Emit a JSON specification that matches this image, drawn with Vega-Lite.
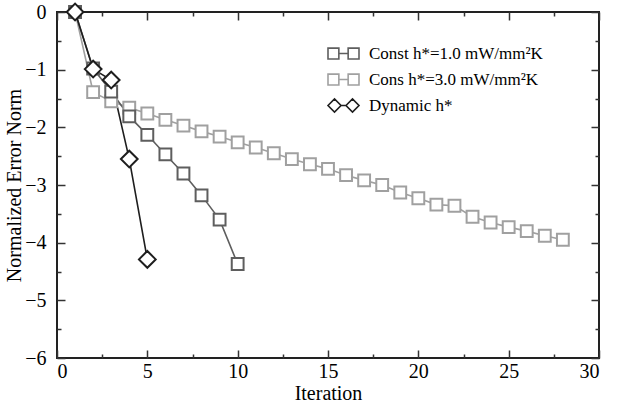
{
  "$schema": "https://vega.github.io/schema/vega-lite/v6.json",
  "width": 542,
  "height": 346,
  "autosize": "none",
  "padding": {"left": 57, "top": 12, "right": 27, "bottom": 49},
  "background": "white",
  "config": {
    "view": {"stroke": "#222", "strokeWidth": 2},
    "axis": {"grid": false, "domain": false, "tickColor": "#333", "tickWidth": 1.5, "labelFont": "Liberation Serif", "titleFont": "Liberation Serif", "labelColor": "#000", "titleColor": "#000", "titleFontWeight": "normal", "labelFontSize": 20, "titleFontSize": 20}
  },
  "data": {"values": [
    {"series": "Cons h*=3.0 mW/mm²K", "x": 1, "y": 0},
    {"series": "Cons h*=3.0 mW/mm²K", "x": 2, "y": -1.39},
    {"series": "Cons h*=3.0 mW/mm²K", "x": 3, "y": -1.55},
    {"series": "Cons h*=3.0 mW/mm²K", "x": 4, "y": -1.66},
    {"series": "Cons h*=3.0 mW/mm²K", "x": 5, "y": -1.76},
    {"series": "Cons h*=3.0 mW/mm²K", "x": 6, "y": -1.87},
    {"series": "Cons h*=3.0 mW/mm²K", "x": 7, "y": -1.97},
    {"series": "Cons h*=3.0 mW/mm²K", "x": 8, "y": -2.07},
    {"series": "Cons h*=3.0 mW/mm²K", "x": 9, "y": -2.16},
    {"series": "Cons h*=3.0 mW/mm²K", "x": 10, "y": -2.26},
    {"series": "Cons h*=3.0 mW/mm²K", "x": 11, "y": -2.35},
    {"series": "Cons h*=3.0 mW/mm²K", "x": 12, "y": -2.45},
    {"series": "Cons h*=3.0 mW/mm²K", "x": 13, "y": -2.55},
    {"series": "Cons h*=3.0 mW/mm²K", "x": 14, "y": -2.64},
    {"series": "Cons h*=3.0 mW/mm²K", "x": 15, "y": -2.72},
    {"series": "Cons h*=3.0 mW/mm²K", "x": 16, "y": -2.83},
    {"series": "Cons h*=3.0 mW/mm²K", "x": 17, "y": -2.92},
    {"series": "Cons h*=3.0 mW/mm²K", "x": 18, "y": -3.0},
    {"series": "Cons h*=3.0 mW/mm²K", "x": 19, "y": -3.13},
    {"series": "Cons h*=3.0 mW/mm²K", "x": 20, "y": -3.23},
    {"series": "Cons h*=3.0 mW/mm²K", "x": 21, "y": -3.34},
    {"series": "Cons h*=3.0 mW/mm²K", "x": 22, "y": -3.36},
    {"series": "Cons h*=3.0 mW/mm²K", "x": 23, "y": -3.55},
    {"series": "Cons h*=3.0 mW/mm²K", "x": 24, "y": -3.65},
    {"series": "Cons h*=3.0 mW/mm²K", "x": 25, "y": -3.73},
    {"series": "Cons h*=3.0 mW/mm²K", "x": 26, "y": -3.8},
    {"series": "Cons h*=3.0 mW/mm²K", "x": 27, "y": -3.88},
    {"series": "Cons h*=3.0 mW/mm²K", "x": 28, "y": -3.95},
    {"series": "Const h*=1.0 mW/mm²K", "x": 1, "y": 0},
    {"series": "Const h*=1.0 mW/mm²K", "x": 2, "y": -0.98},
    {"series": "Const h*=1.0 mW/mm²K", "x": 3, "y": -1.38},
    {"series": "Const h*=1.0 mW/mm²K", "x": 4, "y": -1.81},
    {"series": "Const h*=1.0 mW/mm²K", "x": 5, "y": -2.13},
    {"series": "Const h*=1.0 mW/mm²K", "x": 6, "y": -2.47},
    {"series": "Const h*=1.0 mW/mm²K", "x": 7, "y": -2.8},
    {"series": "Const h*=1.0 mW/mm²K", "x": 8, "y": -3.18},
    {"series": "Const h*=1.0 mW/mm²K", "x": 9, "y": -3.6},
    {"series": "Const h*=1.0 mW/mm²K", "x": 10, "y": -4.37},
    {"series": "Dynamic h*", "x": 1, "y": 0},
    {"series": "Dynamic h*", "x": 2, "y": -0.99},
    {"series": "Dynamic h*", "x": 3, "y": -1.18},
    {"series": "Dynamic h*", "x": 4, "y": -2.55},
    {"series": "Dynamic h*", "x": 5, "y": -4.29}
  ]},
  "resolve": {"axis": {"x": "independent", "y": "independent"}},
  "layer": [
    {
      "mark": {"type": "line", "strokeWidth": 1.6},
      "encoding": {
        "x": {"field": "x", "type": "quantitative", "scale": {"domain": [0, 30], "nice": false, "zero": false},
              "axis": {"orient": "bottom", "values": [0, 5, 10, 15, 20, 25, 30], "tickSize": -8, "labelPadding": 11, "title": "Iteration", "titlePadding": 2}},
        "y": {"field": "y", "type": "quantitative", "scale": {"domain": [-6, 0], "nice": false, "zero": false},
              "axis": {"orient": "left", "values": [-6, -5, -4, -3, -2, -1, 0], "tickSize": -8, "labelPadding": 19, "title": "Normalized Error Norm", "titlePadding": 0}},
        "detail": {"field": "series"},
        "color": {"field": "series", "type": "nominal",
                  "scale": {"domain": ["Const h*=1.0 mW/mm²K", "Cons h*=3.0 mW/mm²K", "Dynamic h*"], "range": ["#5e5e5e", "#a0a0a0", "#1e1e1e"]}}
      }
    },
    {
      "transform": [{"filter": "datum.series !== 'Dynamic h*'"}],
      "mark": {"type": "point", "shape": "square", "size": 140, "filled": false, "fill": "white", "fillOpacity": 1, "strokeWidth": 2, "opacity": 1},
      "encoding": {
        "x": {"field": "x", "type": "quantitative", "axis": {"orient": "top", "values": [0, 5, 10, 15, 20, 25, 30], "tickSize": -8, "labels": false, "title": null}},
        "y": {"field": "y", "type": "quantitative", "axis": {"orient": "right", "values": [-6, -5, -4, -3, -2, -1, 0], "tickSize": -8, "labels": false, "title": null}},
        "color": {"field": "series", "type": "nominal"}
      }
    },
    {
      "transform": [{"filter": "datum.series === 'Dynamic h*'"}],
      "mark": {"type": "point", "shape": "diamond", "size": 280, "filled": false, "fill": "white", "fillOpacity": 1, "strokeWidth": 2, "opacity": 1},
      "encoding": {
        "x": {"field": "x", "type": "quantitative", "axis": null},
        "y": {"field": "y", "type": "quantitative", "axis": null},
        "color": {"field": "series", "type": "nominal"}
      }
    },
    {
      "transform": [{"filter": "false"}],
      "mark": {"type": "point", "filled": false, "fill": "white", "fillOpacity": 1, "strokeWidth": 1.6, "opacity": 1},
      "encoding": {
        "x": {"field": "x", "type": "quantitative", "axis": null},
        "y": {"field": "y", "type": "quantitative", "axis": null},
        "shape": {"field": "series", "type": "nominal",
                  "scale": {"domain": ["Const h*=1.0 mW/mm²K", "Cons h*=3.0 mW/mm²K", "Dynamic h*"],
                            "range": ["M-1,-0.35 H-0.3 V0.35 H-1 Z M-0.3,0 H0.3 M0.3,-0.35 H1 V0.35 H0.3 Z", "M-1,-0.35 H-0.3 V0.35 H-1 Z M-0.3,0 H0.3 M0.3,-0.35 H1 V0.35 H0.3 Z", "M-1,0 L-0.58,-0.42 L-0.16,0 L-0.58,0.42 Z M-0.16,0 L0.16,0 M0.16,0 L0.58,-0.42 L1,0 L0.58,0.42 Z"]},
                  "legend": {"title": null, "orient": "none", "legendX": 270, "legendY": 25, "labelFont": "Liberation Serif", "labelFontSize": 17, "labelColor": "#000", "labelLimit": 400, "symbolSize": 961, "symbolStrokeWidth": 1.6, "symbolFillColor": "white", "labelOffset": 9, "rowPadding": -6}},
        "color": {"field": "series", "type": "nominal",
                  "legend": {"title": null, "orient": "none", "legendX": 270, "legendY": 25, "labelFont": "Liberation Serif", "labelFontSize": 17, "labelColor": "#000", "labelLimit": 400, "symbolSize": 961, "symbolStrokeWidth": 1.6, "symbolFillColor": "white", "labelOffset": 9, "rowPadding": -6}}
      }
    },
    {
      "mark": {"type": "point", "opacity": 0},
      "encoding": {
        "x": {"field": "x", "type": "quantitative", "axis": {"orient": "bottom", "values": [2.5, 7.5, 12.5, 17.5, 22.5, 27.5], "tickSize": -4, "labels": false, "title": null}},
        "y": {"field": "y", "type": "quantitative", "axis": {"orient": "left", "values": [-5.5, -4.5, -3.5, -2.5, -1.5, -0.5], "tickSize": -4, "labels": false, "title": null}}
      }
    },
    {
      "mark": {"type": "point", "opacity": 0},
      "encoding": {
        "x": {"field": "x", "type": "quantitative", "axis": {"orient": "top", "values": [2.5, 7.5, 12.5, 17.5, 22.5, 27.5], "tickSize": -4, "labels": false, "title": null}},
        "y": {"field": "y", "type": "quantitative", "axis": {"orient": "right", "values": [-5.5, -4.5, -3.5, -2.5, -1.5, -0.5], "tickSize": -4, "labels": false, "title": null}}
      }
    }
  ]
}
